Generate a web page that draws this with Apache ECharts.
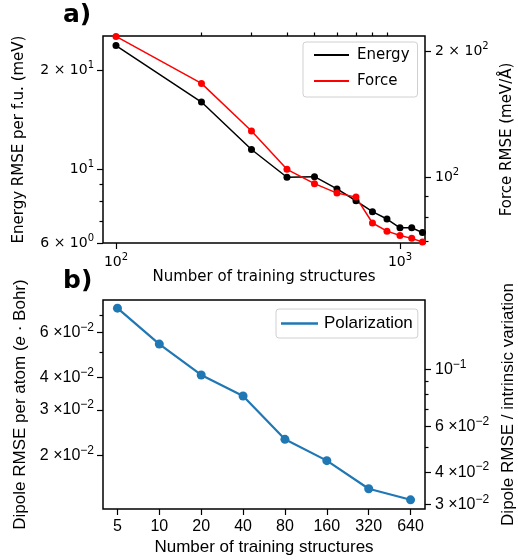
<!DOCTYPE html>
<html>
<head>
<meta charset="utf-8">
<script src="https://cdn.jsdelivr.net/npm/echarts@6/dist/echarts.min.js"></script>
<style>html,body{margin:0;padding:0;background:#fff}#c{width:518px;height:560px}</style>
</head>
<body>
<div id="c"></div>
<script>
// ---------- data ----------
const trainSizes = [100, 200, 300, 400, 500, 600, 700, 800, 900, 1000, 1100, 1200];
const energyRMSE = [23.7, 16.0, 11.5, 9.48, 9.52, 8.74, 8.05, 7.46, 7.09, 6.67, 6.67, 6.45];
const forceRMSE = [217, 167.5, 128.9, 104.3, 96.4, 91.5, 89.5, 77.6, 74.2, 72.4, 71.3, 69.9];
const dipoleSizes = [5, 10, 20, 40, 80, 160, 320, 640];
const dipoleRMSE = [0.0744, 0.0540, 0.0410, 0.0340, 0.0231, 0.0191, 0.01487, 0.01347];

// tick values
const topXMajor = [100, 1000];
const topXMinor = [200, 300, 400, 500, 600, 700, 800, 900];
const energyLabelTicks = [6, 10, 20];
const energyMinorTicks = [7, 8, 9];
const forceLabelTicks = [100, 200];
const forceMinorTicks = [70, 80, 90];
const dipoleLabelTicks = [0.02, 0.03, 0.04, 0.06];
const dipoleMinorTicks = [0.05, 0.07];
const ratioLabelTicks = [0.03, 0.04, 0.06, 0.1];
const ratioMinorTicks = [0.05, 0.07, 0.08, 0.09];

const F1 = 'DejaVu Sans';
const F2 = 'Liberation Sans';

function sci(v, spaced) {
  const e = Math.floor(Math.log10(v) + 1e-9);
  const m = Math.round(v / Math.pow(10, e));
  const ex = String(e).replace('-', '\u2212');
  const pre = m === 1 ? '' : (spaced ? m + ' \u00d7' : m + ' \u00d7 ');
  return '{b|' + pre + '10}{s|' + ex + '}';
}
function rich(ff, fs) {
  return {
    b: {fontFamily: ff, fontSize: fs, color: '#000', lineHeight: fs + 6},
    s: {fontFamily: ff, fontSize: Math.round(fs * 0.72), color: '#000', verticalAlign: 'top', lineHeight: fs * 0.8}
  };
}
const tickStyle = {color: '#000', width: 1.2};

const chart = echarts.init(document.getElementById('c'));
const option = {
  animation: false,
  backgroundColor: '#fff',
  title: [
    {text: 'a)', left: 63, top: 3, padding: 0, textStyle: {fontFamily: F1, fontWeight: 'bold', fontSize: 25, color: '#000'}},
    {text: 'b)', left: 63, top: 269, padding: 0, textStyle: {fontFamily: F1, fontWeight: 'bold', fontSize: 25, color: '#000'}}
  ],
  grid: [
    {left: 103, top: 36, width: 322, height: 207, show: true, borderColor: '#000', borderWidth: 1.5, backgroundColor: 'transparent', containLabel: false, outerBoundsMode: 'none'},
    {left: 103, top: 300, width: 322, height: 209, show: true, borderColor: '#000', borderWidth: 1.5, backgroundColor: 'transparent', containLabel: false, outerBoundsMode: 'none'}
  ],
  legend: [
    {
      data: ['Energy', 'Force'], orient: 'vertical', left: 303, top: 42,
      icon: 'rect', itemWidth: 35, itemHeight: 2, itemGap: 8,
      padding: [4, 8, 7, 11],
      backgroundColor: '#fff', borderColor: '#d0d0d0', borderWidth: 1, borderRadius: 3,
      textStyle: {fontFamily: F1, fontSize: 15, color: '#000', lineHeight: 18, padding: [0, 0, 0, 3]}
    },
    {
      data: ['Polarization'], orient: 'vertical', left: 276, top: 309,
      icon: 'rect', itemWidth: 37, itemHeight: 2.5,
      padding: [5, 5, 5, 5],
      backgroundColor: '#fff', borderColor: '#d0d0d0', borderWidth: 1, borderRadius: 3,
      textStyle: {fontFamily: F2, fontSize: 17, color: '#000', lineHeight: 19, padding: [0, 0, 0, 1]}
    }
  ],
  xAxis: [
    {
      gridIndex: 0, type: 'log', min: 90, max: 1225,
      name: 'Number of training structures', nameLocation: 'middle', nameGap: 20,
      nameTextStyle: {fontFamily: F1, fontSize: 15, color: '#000'},
      axisLine: {show: false}, splitLine: {show: false},
      axisTick: {show: true, length: 6, lineStyle: tickStyle, customValues: topXMajor},
      axisLabel: {customValues: topXMajor, margin: 9, formatter: v => sci(v), rich: rich(F1, 14)}
    },
    {
      gridIndex: 0, type: 'log', min: 90, max: 1225,
      axisLine: {show: false}, splitLine: {show: false},
      axisTick: {show: true, length: 3.5, lineStyle: tickStyle, customValues: topXMinor},
      axisLabel: {show: false}
    },
    {
      gridIndex: 1, type: 'log', logBase: 2, min: 5 / Math.pow(2, 0.345), max: 640 * Math.pow(2, 0.345),
      name: 'Number of training structures', nameLocation: 'middle', nameGap: 30,
      nameTextStyle: {fontFamily: F2, fontSize: 17, color: '#000'},
      axisLine: {show: false}, splitLine: {show: false},
      axisTick: {show: true, length: 6, lineStyle: tickStyle, customValues: dipoleSizes},
      axisLabel: {customValues: dipoleSizes, margin: 10, fontFamily: F2, fontSize: 16, color: '#000', formatter: v => String(Math.round(v))}
    }
  ],
  yAxis: [
    {
      gridIndex: 0, type: 'log', min: 6, max: 25.33, position: 'left',
      name: 'Energy RMSE per f.u. (meV)', nameLocation: 'middle', nameGap: 76, nameRotate: 90,
      nameTextStyle: {fontFamily: F1, fontSize: 15, color: '#000'},
      axisLine: {show: false}, splitLine: {show: false},
      axisTick: {show: true, length: 6, lineStyle: tickStyle, customValues: energyLabelTicks},
      axisLabel: {customValues: energyLabelTicks, margin: 9, formatter: v => sci(v), rich: rich(F1, 14)}
    },
    {
      gridIndex: 0, type: 'log', min: 6, max: 25.33, position: 'left',
      axisLine: {show: false}, splitLine: {show: false},
      axisTick: {show: true, length: 3.5, lineStyle: tickStyle, customValues: energyMinorTicks},
      axisLabel: {show: false}
    },
    {
      gridIndex: 0, type: 'log', min: 69.5, max: 217.5, position: 'right',
      name: 'Force RMSE (meV/\u00c5)', nameLocation: 'middle', nameGap: 75, nameRotate: 90,
      nameTextStyle: {fontFamily: F1, fontSize: 15, color: '#000'},
      axisLine: {show: false}, splitLine: {show: false},
      axisTick: {show: true, length: 6, lineStyle: tickStyle, customValues: forceLabelTicks},
      axisLabel: {customValues: forceLabelTicks, margin: 10, formatter: v => sci(v), rich: rich(F1, 14)}
    },
    {
      gridIndex: 0, type: 'log', min: 69.5, max: 217.5, position: 'right',
      axisLine: {show: false}, splitLine: {show: false},
      axisTick: {show: true, length: 3.5, lineStyle: tickStyle, customValues: forceMinorTicks},
      axisLabel: {show: false}
    },
    {
      gridIndex: 1, type: 'log', min: 0.01241, max: 0.0800, position: 'left',
      name: 'Dipole RMSE per atom ({i|e} \u00b7 Bohr)', nameLocation: 'middle', nameGap: 74, nameRotate: 90,
      nameTextStyle: {fontFamily: F2, fontSize: 17, color: '#000', rich: {i: {fontFamily: F2, fontSize: 17, fontStyle: 'italic', color: '#000'}}},
      axisLine: {show: false}, splitLine: {show: false},
      axisTick: {show: true, length: 6, lineStyle: tickStyle, customValues: dipoleLabelTicks},
      axisLabel: {customValues: dipoleLabelTicks, margin: 9, formatter: v => sci(v, true), rich: rich(F2, 16)}
    },
    {
      gridIndex: 1, type: 'log', min: 0.01241, max: 0.0800, position: 'left',
      axisLine: {show: false}, splitLine: {show: false},
      axisTick: {show: true, length: 3.5, lineStyle: tickStyle, customValues: dipoleMinorTicks},
      axisLabel: {show: false}
    },
    {
      gridIndex: 1, type: 'log', min: 0.0288, max: 0.1857, position: 'right',
      name: 'Dipole RMSE / intrinsic variation', nameLocation: 'middle', nameGap: 74, nameRotate: 90,
      nameTextStyle: {fontFamily: F2, fontSize: 17, color: '#000'},
      axisLine: {show: false}, splitLine: {show: false},
      axisTick: {show: true, length: 6, lineStyle: tickStyle, customValues: ratioLabelTicks},
      axisLabel: {customValues: ratioLabelTicks, margin: 10, formatter: v => sci(v, true), rich: rich(F2, 16)}
    },
    {
      gridIndex: 1, type: 'log', min: 0.0288, max: 0.1857, position: 'right',
      axisLine: {show: false}, splitLine: {show: false},
      axisTick: {show: true, length: 3.5, lineStyle: tickStyle, customValues: ratioMinorTicks},
      axisLabel: {show: false}
    }
  ],
  series: [
    {
      name: 'Energy', type: 'line', xAxisIndex: 0, yAxisIndex: 0,
      data: trainSizes.map((x, i) => [x, energyRMSE[i]]),
      color: '#000', symbol: 'circle', symbolSize: 7, showAllSymbol: true,
      lineStyle: {width: 1.5, color: '#000'}, itemStyle: {color: '#000'}, z: 3
    },
    {
      name: 'Force', type: 'line', xAxisIndex: 0, yAxisIndex: 2,
      data: trainSizes.map((x, i) => [x, forceRMSE[i]]),
      color: '#ff0000', symbol: 'circle', symbolSize: 7, showAllSymbol: true,
      lineStyle: {width: 1.5, color: '#ff0000'}, itemStyle: {color: '#ff0000'}, z: 3
    },
    {
      name: 'Polarization', type: 'line', xAxisIndex: 2, yAxisIndex: 4,
      data: dipoleSizes.map((x, i) => [x, dipoleRMSE[i]]),
      color: '#1f77b4', symbol: 'circle', symbolSize: 9, showAllSymbol: true,
      lineStyle: {width: 2.2, color: '#1f77b4'}, itemStyle: {color: '#1f77b4'}, z: 3
    }
  ]
};
chart.setOption(option);
</script>
</body>
</html>
